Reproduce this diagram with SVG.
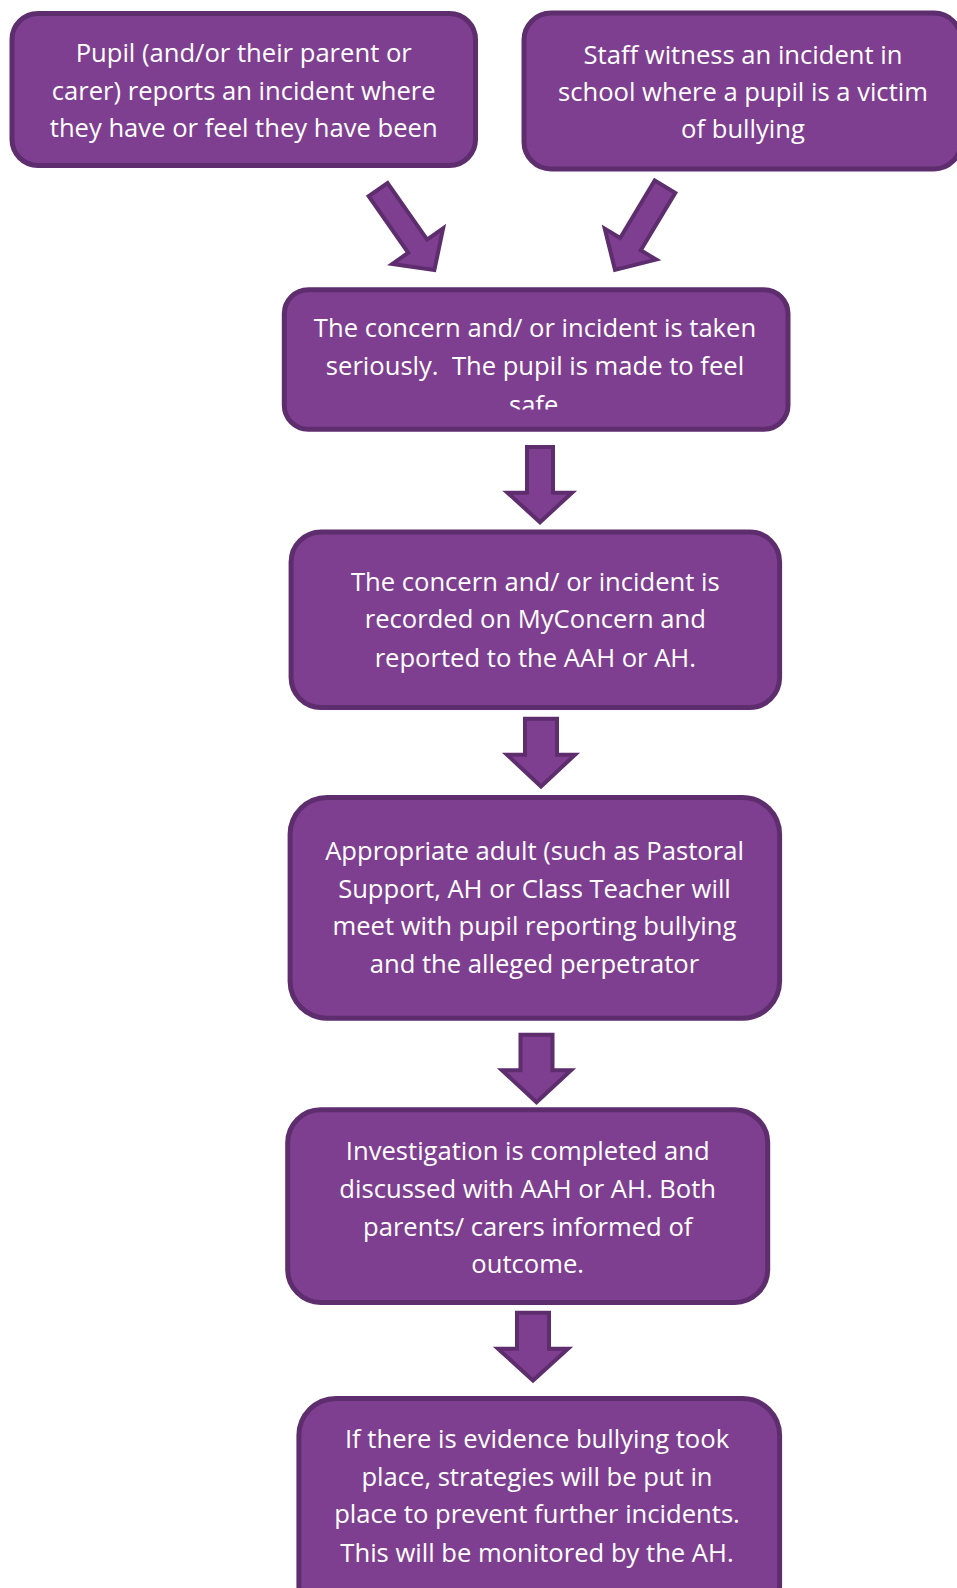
<svg xmlns="http://www.w3.org/2000/svg" width="957" height="1588" viewBox="0 0 957 1588">
<style>
  .box { fill: #7F3F91; stroke: #5E2D6E; stroke-width: 5; }
  .arr { fill: #7F3F91; stroke: #5E2D6E; stroke-width: 4; stroke-linejoin: miter; }
  .t { font-family: "Open Sans", "Liberation Sans", sans-serif; font-size: 25.6px; fill: #FFFFFF; text-anchor: middle; white-space: pre; }
</style>
<defs>
  <clipPath id="clip3"><rect x="284" y="290" width="504" height="119.5"/></clipPath>
</defs>
<rect width="957" height="1588" fill="#FFFFFF"/>
<g id="connectors">
  <polygon class="arr" transform="translate(377,188) rotate(-35)" points="-11.5,2 11.5,2 11.5,71 31,71 0,100 -31,71 -11.5,71"/>
  <polygon class="arr" transform="translate(666,185) rotate(31)" points="-12,2 12,2 12,69 30,69 0,99 -30,69 -12,69"/>
  <polygon class="arr" points="527,447 553,447 553,492.7 572,492.7 540,522.2 507.5,492.7 527,492.7"/>
  <polygon class="arr" points="525,718.7 557,718.7 557,754.7 575,754.7 541,786.5 507,754.7 525,754.7"/>
  <polygon class="arr" points="520.5,1034.7 552.5,1034.7 552.5,1070.3 571,1070.3 536.5,1102.2 502,1070.3 520.5,1070.3"/>
  <polygon class="arr" points="517,1312.7 549,1312.7 549,1348.7 568,1348.7 533,1380.5 498,1348.7 517,1348.7"/>
</g>
<g id="node1">
  <rect class="box" x="12" y="13.5" width="463.5" height="152" rx="26"/>
  <text class="t" x="243.7" y="62">Pupil (and/or their parent or</text>
  <text class="t" x="243.7" y="99.5">carer) reports an incident where</text>
  <text class="t" x="243.7" y="137">they have or feel they have been</text>
</g>
<g id="node2">
  <rect class="box" x="524" y="13" width="437" height="156" rx="27"/>
  <text class="t" x="743" y="64">Staff witness an incident in</text>
  <text class="t" x="743" y="101">school where a pupil is a victim</text>
  <text class="t" x="743" y="138">of bullying</text>
</g>
<g id="node3">
  <rect class="box" x="284.3" y="289.8" width="503.7" height="139.4" rx="24"/>
  <g clip-path="url(#clip3)">
    <text class="t" x="535" y="337">The concern and/ or incident is taken</text>
    <text class="t" x="535" y="375">seriously.  The pupil is made to feel</text>
    <text class="t" x="537" y="413.5">safe.</text>
  </g>
</g>
<g id="node4">
  <rect class="box" x="291.1" y="532" width="488.5" height="175.5" rx="30"/>
  <text class="t" x="535.3" y="590.7">The concern and/ or incident is</text>
  <text class="t" x="535.3" y="628.3">recorded on MyConcern and</text>
  <text class="t" x="535.3" y="666.7">reported to the AAH or AH.</text>
</g>
<g id="node5">
  <rect class="box" x="290.1" y="797.5" width="489.5" height="220.7" rx="37"/>
  <text class="t" x="534.5" y="860">Appropriate adult (such as Pastoral</text>
  <text class="t" x="534.5" y="897.5">Support, AH or Class Teacher will</text>
  <text class="t" x="534.5" y="935">meet with pupil reporting bullying</text>
  <text class="t" x="534.5" y="972.7">and the alleged perpetrator</text>
</g>
<g id="node6">
  <rect class="box" x="287.7" y="1109.8" width="480" height="192.7" rx="33"/>
  <text class="t" x="527.7" y="1160">Investigation is completed and</text>
  <text class="t" x="527.7" y="1197.7">discussed with AAH or AH. Both</text>
  <text class="t" x="527.7" y="1236">parents/ carers informed of</text>
  <text class="t" x="527.7" y="1273.3">outcome.</text>
</g>
<g id="node7">
  <rect class="box" x="298.9" y="1398.5" width="480.7" height="224" rx="37"/>
  <text class="t" x="537" y="1448.3">If there is evidence bullying took</text>
  <text class="t" x="537" y="1486">place, strategies will be put in</text>
  <text class="t" x="537" y="1523.3">place to prevent further incidents.</text>
  <text class="t" x="537" y="1561.7">This will be monitored by the AH.</text>
</g>
</svg>
